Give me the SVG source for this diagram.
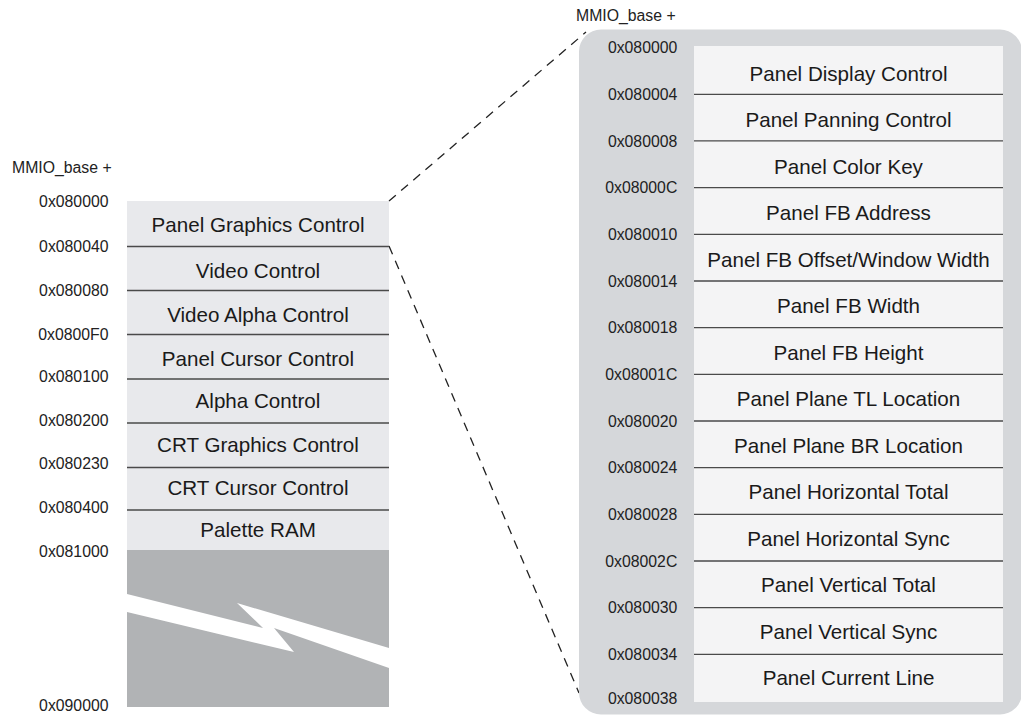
<svg xmlns="http://www.w3.org/2000/svg" width="1021" height="715" viewBox="0 0 1021 715">
<style>
.lbl{font-family:"Liberation Sans",Arial,sans-serif;font-size:15.8px;fill:#222}
.lblr{font-family:"Liberation Sans",Arial,sans-serif;font-size:15.8px;fill:#222;text-anchor:end}
.row{font-family:"Liberation Sans",Arial,sans-serif;font-size:20.6px;fill:#1a1a1a;text-anchor:middle}
.sep{stroke:#4a4a4a;stroke-width:1.3}
.dash{stroke:#222;stroke-width:1.3;stroke-dasharray:9 7;fill:none}
</style>
<rect width="1021" height="715" fill="#ffffff"/>
<g id="connectors">
<line class="dash" x1="389" y1="201" x2="586" y2="32"/>
<line class="dash" x1="389" y1="246" x2="579" y2="693"/>
</g>
<g id="left-map">
<text class="lbl" x="12" y="173.3">MMIO_base +</text>
<rect x="127" y="201" width="262" height="349" fill="#e8e9ec"/>
<rect x="127" y="550" width="262" height="157" fill="#b1b3b5"/>
<polygon points="127,594 263,628 237,603 389,648 389,668 274,628 294,652 127,612" fill="#ffffff"/>
<g class="sep">
<line x1="127" y1="246.5" x2="389" y2="246.5"/>
<line x1="127" y1="290.5" x2="389" y2="290.5"/>
<line x1="127" y1="334.5" x2="389" y2="334.5"/>
<line x1="127" y1="379" x2="389" y2="379"/>
<line x1="127" y1="423" x2="389" y2="423"/>
<line x1="127" y1="467.5" x2="389" y2="467.5"/>
<line x1="127" y1="510" x2="389" y2="510"/>
</g>
<text class="row" x="258" y="232.3">Panel Graphics Control</text>
<text class="row" x="258" y="277.7">Video Control</text>
<text class="row" x="258" y="321.7">Video Alpha Control</text>
<text class="row" x="258" y="366">Panel Cursor Control</text>
<text class="row" x="258" y="408.3">Alpha Control</text>
<text class="row" x="258" y="451.7">CRT Graphics Control</text>
<text class="row" x="258" y="495">CRT Cursor Control</text>
<text class="row" x="258" y="536.5">Palette RAM</text>
<text class="lblr" x="108.5" y="207.3">0x080000</text>
<text class="lblr" x="108.5" y="251.7">0x080040</text>
<text class="lblr" x="108.5" y="295.7">0x080080</text>
<text class="lblr" x="108.5" y="340">0x0800F0</text>
<text class="lblr" x="108.5" y="381.7">0x080100</text>
<text class="lblr" x="108.5" y="426">0x080200</text>
<text class="lblr" x="108.5" y="469.3">0x080230</text>
<text class="lblr" x="108.5" y="512.7">0x080400</text>
<text class="lblr" x="108.5" y="556.7">0x081000</text>
<text class="lblr" x="108.5" y="710.7">0x090000</text>
</g>
<g id="right-map">
<text class="lbl" x="576" y="20.7">MMIO_base +</text>
<rect x="579" y="29.5" width="443" height="685" rx="22" fill="#d5d7da"/>
<rect x="694" y="46" width="309" height="656" fill="#f4f4f5"/>
<g class="sep">
<line x1="694" y1="94.3" x2="1003" y2="94.3"/>
<line x1="694" y1="140.9" x2="1003" y2="140.9"/>
<line x1="694" y1="187.6" x2="1003" y2="187.6"/>
<line x1="694" y1="234.3" x2="1003" y2="234.3"/>
<line x1="694" y1="281" x2="1003" y2="281"/>
<line x1="694" y1="327.6" x2="1003" y2="327.6"/>
<line x1="694" y1="374.3" x2="1003" y2="374.3"/>
<line x1="694" y1="421" x2="1003" y2="421"/>
<line x1="694" y1="467.6" x2="1003" y2="467.6"/>
<line x1="694" y1="514.3" x2="1003" y2="514.3"/>
<line x1="694" y1="561" x2="1003" y2="561"/>
<line x1="694" y1="607.6" x2="1003" y2="607.6"/>
<line x1="694" y1="654.3" x2="1003" y2="654.3"/>
</g>
<text class="row" x="848.5" y="80.7">Panel Display Control</text>
<text class="row" x="848.5" y="127.2">Panel Panning Control</text>
<text class="row" x="848.5" y="173.7">Panel Color Key</text>
<text class="row" x="848.5" y="220.1">Panel FB Address</text>
<text class="row" x="848.5" y="266.6">Panel FB Offset/Window Width</text>
<text class="row" x="848.5" y="313.1">Panel FB Width</text>
<text class="row" x="848.5" y="359.6">Panel FB Height</text>
<text class="row" x="848.5" y="406.1">Panel Plane TL Location</text>
<text class="row" x="848.5" y="452.5">Panel Plane BR Location</text>
<text class="row" x="848.5" y="499">Panel Horizontal Total</text>
<text class="row" x="848.5" y="545.5">Panel Horizontal Sync</text>
<text class="row" x="848.5" y="592">Panel Vertical Total</text>
<text class="row" x="848.5" y="638.5">Panel Vertical Sync</text>
<text class="row" x="848.5" y="684.9">Panel Current Line</text>
<text class="lblr" x="677.3" y="53.3">0x080000</text>
<text class="lblr" x="677.3" y="100">0x080004</text>
<text class="lblr" x="677.3" y="146.6">0x080008</text>
<text class="lblr" x="677.3" y="193.3">0x08000C</text>
<text class="lblr" x="677.3" y="240">0x080010</text>
<text class="lblr" x="677.3" y="286.7">0x080014</text>
<text class="lblr" x="677.3" y="333.3">0x080018</text>
<text class="lblr" x="677.3" y="380">0x08001C</text>
<text class="lblr" x="677.3" y="426.7">0x080020</text>
<text class="lblr" x="677.3" y="473.3">0x080024</text>
<text class="lblr" x="677.3" y="520">0x080028</text>
<text class="lblr" x="677.3" y="566.7">0x08002C</text>
<text class="lblr" x="677.3" y="613.3">0x080030</text>
<text class="lblr" x="677.3" y="660">0x080034</text>
<text class="lblr" x="677.3" y="704">0x080038</text>
</g>
</svg>
